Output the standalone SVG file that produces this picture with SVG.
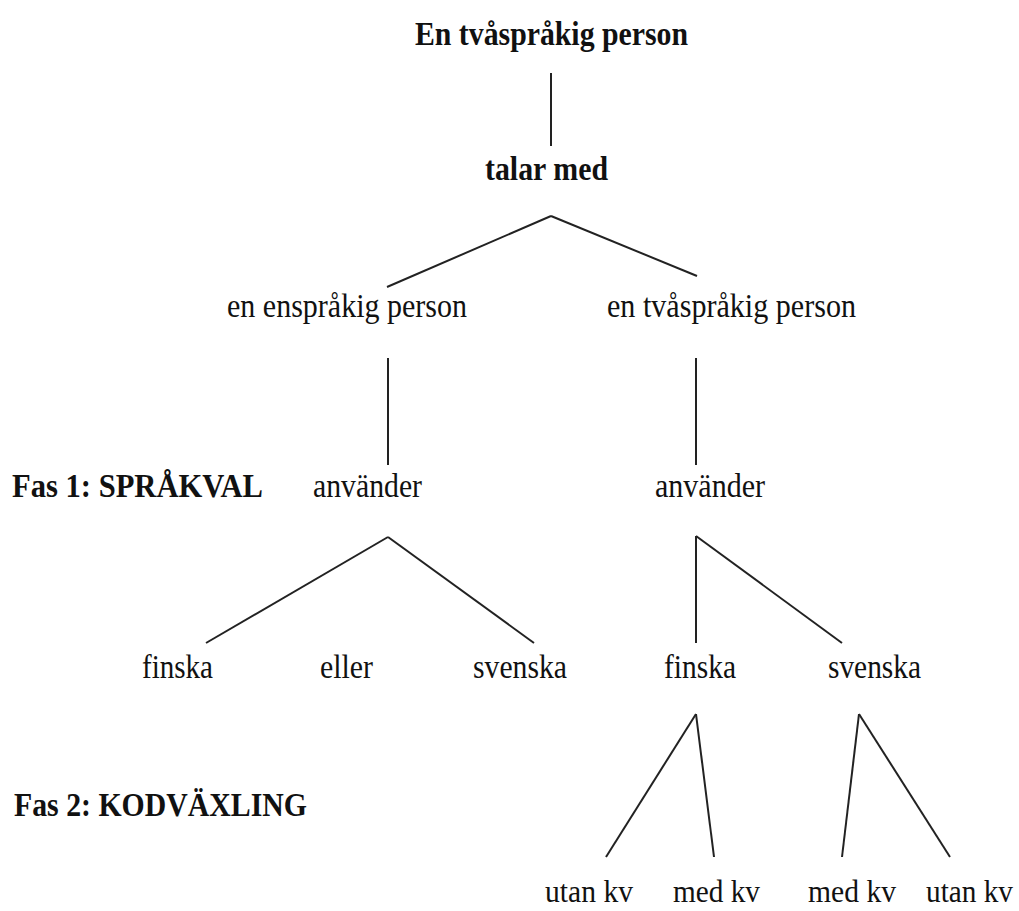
<svg xmlns="http://www.w3.org/2000/svg" width="1019" height="911" viewBox="0 0 1019 911">
<style>
text{font-family:"Liberation Serif","Times New Roman",serif;font-size:34px;fill:#111}
.b{font-weight:bold}
.s{font-size:31px}
.c line{stroke:#222;stroke-width:2;fill:none}
</style>
<rect width="1019" height="911" fill="#fff"/>
<g class="c" id="connectors">
<line x1="551" y1="73" x2="551" y2="146"/>
<line x1="551" y1="216" x2="387" y2="287"/>
<line x1="551" y1="216" x2="697" y2="276"/>
<line x1="388" y1="358" x2="388" y2="465"/>
<line x1="696" y1="358" x2="696" y2="465"/>
<line x1="388" y1="537" x2="206" y2="643"/>
<line x1="388" y1="537" x2="534" y2="643"/>
<line x1="696" y1="536" x2="696" y2="643"/>
<line x1="696" y1="536" x2="842" y2="643"/>
<line x1="696" y1="714" x2="606" y2="857"/>
<line x1="696" y1="714" x2="714" y2="857"/>
<line x1="859" y1="714" x2="842" y2="857"/>
<line x1="859" y1="714" x2="950" y2="857"/>
</g>
<g id="root"><text class="b" x="415" y="45" textLength="273" lengthAdjust="spacingAndGlyphs">En tvåspråkig person</text></g>
<g id="talar"><text class="b" x="485" y="180" textLength="123" lengthAdjust="spacingAndGlyphs">talar med</text></g>
<g id="ensprakig"><text x="227" y="317" textLength="240" lengthAdjust="spacingAndGlyphs">en enspråkig person</text></g>
<g id="tvasprakig"><text x="607" y="317" textLength="249" lengthAdjust="spacingAndGlyphs">en tvåspråkig person</text></g>
<g id="fas1"><text class="b" x="12" y="497" textLength="251" lengthAdjust="spacingAndGlyphs">Fas 1: SPRÅKVAL</text></g>
<g id="anvander1"><text x="313" y="497" textLength="109" lengthAdjust="spacingAndGlyphs">använder</text></g>
<g id="anvander2"><text x="655" y="497" textLength="110" lengthAdjust="spacingAndGlyphs">använder</text></g>
<g id="finska1"><text x="142" y="678" textLength="71" lengthAdjust="spacingAndGlyphs">finska</text></g>
<g id="eller"><text x="320" y="678" textLength="53" lengthAdjust="spacingAndGlyphs">eller</text></g>
<g id="svenska1"><text x="473" y="678" textLength="94" lengthAdjust="spacingAndGlyphs">svenska</text></g>
<g id="finska2"><text x="664" y="678" textLength="72" lengthAdjust="spacingAndGlyphs">finska</text></g>
<g id="svenska2"><text x="828" y="678" textLength="93" lengthAdjust="spacingAndGlyphs">svenska</text></g>
<g id="fas2"><text class="b" x="14" y="816" textLength="293" lengthAdjust="spacingAndGlyphs">Fas 2: KODVÄXLING</text></g>
<g id="utankv1"><text class="s" x="545" y="902" textLength="88" lengthAdjust="spacingAndGlyphs">utan kv</text></g>
<g id="medkv1"><text class="s" x="673" y="902" textLength="87" lengthAdjust="spacingAndGlyphs">med kv</text></g>
<g id="medkv2"><text class="s" x="808" y="902" textLength="88" lengthAdjust="spacingAndGlyphs">med kv</text></g>
<g id="utankv2"><text class="s" x="926" y="902" textLength="87" lengthAdjust="spacingAndGlyphs">utan kv</text></g>
</svg>
